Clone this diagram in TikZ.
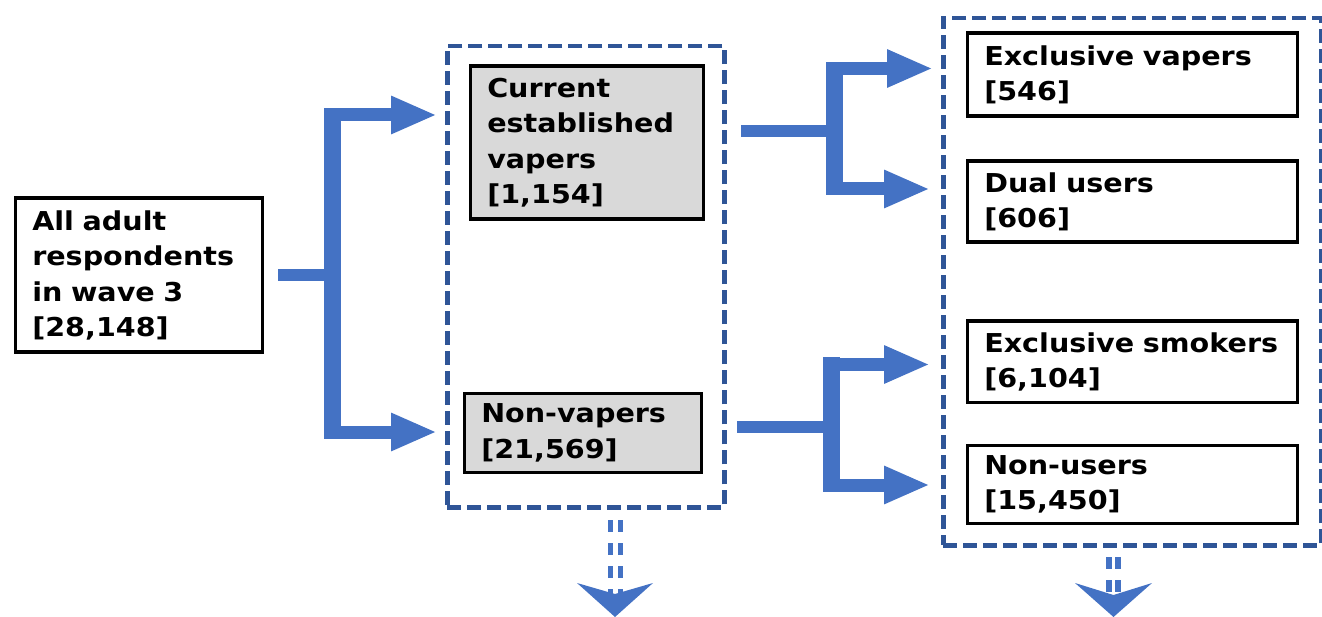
\documentclass[tikz,border=0pt]{standalone}
\usepackage{fontspec}
\setmainfont{DejaVu Sans}[FakeStretch=1.1]
\usetikzlibrary{arrows.meta}
\definecolor{flowblue}{HTML}{4472C4}
\definecolor{groupblue}{HTML}{2F5597}
\definecolor{boxgray}{HTML}{D9D9D9}
\begin{document}
\begin{tikzpicture}[x=1pt, y=-1pt,
	box/.style={draw=black, line width=3.5pt, anchor=north west, inner xsep=17pt, inner ysep=0pt,
		align=left, font=\fontsize{26}{35.5}\selectfont\bfseries},
	group/.style={draw=groupblue, line width=4.5pt, dash pattern=on 14pt off 6pt, anchor=north west, inner sep=0pt},
	stem/.style={flowblue, line width=12pt},
	bar/.style={flowblue, line width=17pt},
	arm/.style={flowblue, line width=13pt, -{Triangle[length=46pt, width=35pt]}},
	next/.style={flowblue, line width=5.5pt, dash pattern=on 12pt off 11pt}]
	\useasboundingbox (0,0) rectangle (1322,617);

	%groups
	\node[group, minimum width=277pt, minimum height=461pt] (g1) at (445,44) {};
	\node[group, minimum width=378pt, minimum height=527pt] (g2) at (941,16) {};

	%boxes
	\node[box, text width=213pt, minimum height=154pt] (all) at (13.5,196.5)
		{All adult\\respondents\\in wave 3\\{[28,148]}};
	\node[box, fill=boxgray, text width=199pt, minimum height=153pt] (cev) at (468.5,64.5)
		{Current\\established\\vapers\\{[1,154]}};
	\node[box, fill=boxgray, text width=203pt, minimum height=79pt] (nv) at (462.5,391.5)
		{Non-vapers\\{[21,569]}};
	\node[box, text width=296pt, minimum height=83pt] (ev) at (965.5,31.5)
		{Exclusive vapers\\{[546]}};
	\node[box, text width=296pt, minimum height=81pt] (du) at (965.5,159.5)
		{Dual users\\{[606]}};
	\node[box, text width=296pt, minimum height=81pt] (es) at (965.5,319.5)
		{Exclusive smokers\\{[6,104]}};
	\node[box, text width=296pt, minimum height=78pt] (nu) at (965.5,443.5)
		{Non-users\\{[15,450]}};

	%split points
	\coordinate (s1) at (332,275);
	\coordinate (s2) at (834.5,131);
	\coordinate (s3) at (831.5,427);

	%arrows
	\draw[stem] ([xshift=14pt]all.east |- s1) -- (s1);
	\draw[bar] (332,108.5) -- (332,438.5);
	\draw[arm] (326,115) -- (437,115);
	\draw[arm] (326,432) -- (437,432);

	\draw[stem] ([xshift=36pt]cev.east |- s2) -- (s2);
	\draw[bar] (834.5,62.5) -- (834.5,195.5);
	\draw[arm] (828,68.5) -- (933,68.5);
	\draw[arm] (828,189) -- (930,189);

	\draw[stem] ([xshift=34pt]nv.east |- s3) -- (s3);
	\draw[bar] (831.5,357.5) -- (831.5,491.5);
	\draw[arm] (825,364.5) -- (930,364.5);
	\draw[arm] (825,485) -- (930,485);

	%onward
	\coordinate (o1) at (615.5,520);
	\coordinate (o2) at (1113.5,557);
	\draw[next] ([xshift=-5pt]o1) -- ++(0,75);
	\draw[next] ([xshift=5pt]o1) -- ++(0,75);
	\fill[flowblue] (577,583) -- (615,617) -- (653,583) -- (615,594) -- cycle;
	\draw[next, line width=6pt] ([xshift=-4.5pt]o2) -- ++(0,38);
	\draw[next, line width=6pt] ([xshift=4.5pt]o2) -- ++(0,38);
	\fill[flowblue] (1075,583) -- (1113.5,617) -- (1152,583) -- (1113.5,595) -- cycle;
\end{tikzpicture}
\end{document}
